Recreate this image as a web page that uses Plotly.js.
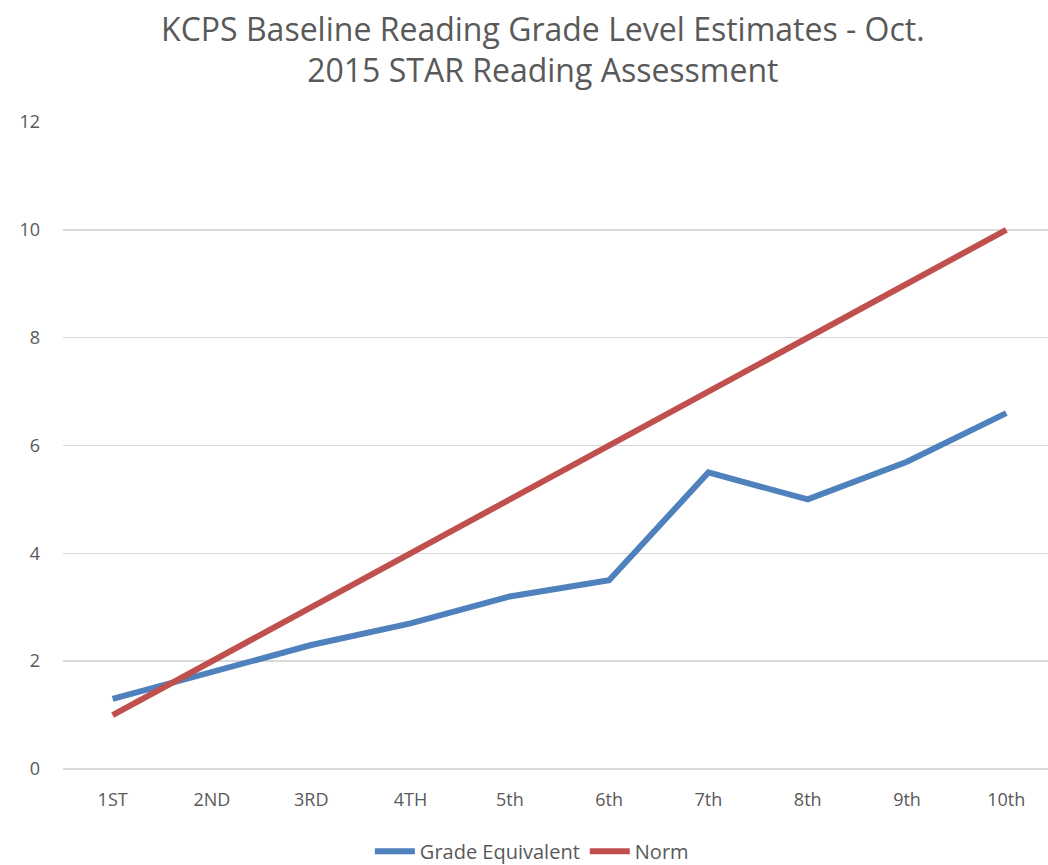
<!DOCTYPE html>
<html><head><meta charset="utf-8">
<script src="https://cdn.plot.ly/plotly-3.0.1.min.js"></script>
<style>body{margin:0;background:#fff}#c{width:1048px;height:865px}</style>
</head><body><div id="c"></div>
<script>
const grades = ["1ST","2ND","3RD","4TH","5th","6th","7th","8th","9th","10th"];
const gradeEquivalent = [1.3,1.8,2.3,2.7,3.2,3.5,5.5,5.0,5.7,6.6];
const norm = [1,2,3,4,5,6,7,8,9,10];
const yTicks = [0,2,4,6,8,10,12];

const font = "Open Sans, Noto Sans, sans-serif";
const data = [
  {x: grades, y: gradeEquivalent, type:"scatter", mode:"lines", name:"Grade Equivalent",
   line:{color:"#4F81BD", width:6}},
  {x: grades, y: norm, type:"scatter", mode:"lines", name:"Norm",
   line:{color:"#C0504D", width:6}}
];
const layout = {
  width:1048, height:865,
  margin:{l:63, r:0, t:122, b:96, autoexpand:false},
  paper_bgcolor:"#fff", plot_bgcolor:"#fff",
  font:{family:font, color:"#595959"},
  title:{text:"KCPS Baseline Reading Grade Level Estimates - Oct.<br>2015 STAR Reading Assessment",
    font:{size:32, color:"#595959", family:font}, x:0.518, xanchor:"center",
    yref:"container", y:0.953, yanchor:"middle"},
  xaxis:{type:"category", range:[-0.5,9.42], showgrid:false, zeroline:false,
    showline:false, tickfont:{size:18, color:"#595959"}, ticks:"", ticklabelstandoff:18, fixedrange:true},
  yaxis:{range:[0,12], tickvals:yTicks, showgrid:true, gridcolor:"#D9D9D9", gridwidth:1.5,
    zeroline:true, zerolinecolor:"#D9D9D9", zerolinewidth:1.5, showline:false,
    tickfont:{size:18, color:"#595959"}, ticks:"", ticklabelstandoff:22, fixedrange:true},
  showlegend:true,
  legend:{orientation:"h", x:0.476, xanchor:"center", y:-0.097, yanchor:"top",
    font:{size:20, color:"#595959"}, itemwidth:40, tracegroupgap:0}
};
Plotly.newPlot("c", data, layout, {displayModeBar:false, staticPlot:true});
</script></body></html>
